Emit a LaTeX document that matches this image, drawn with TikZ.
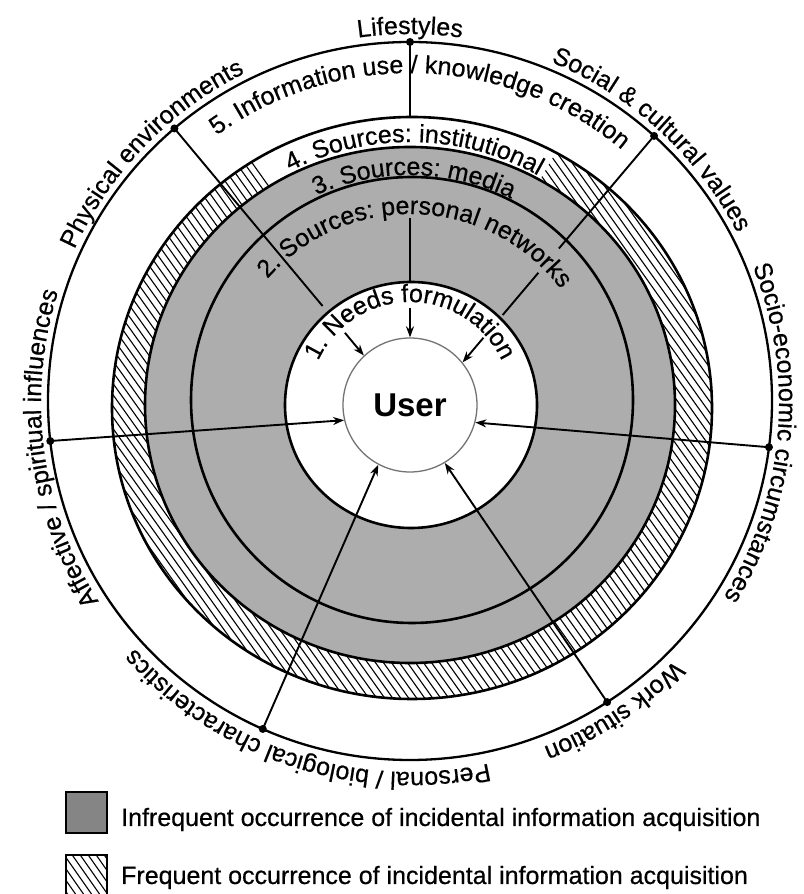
\documentclass[tikz,border=0pt]{standalone}
\usepackage{fontspec}
\setmainfont{Liberation Sans}
\newfontfamily\lblfamily{Liberation Sans}[FakeBold=0.5]
\usetikzlibrary{arrows.meta,calc,decorations.text}
\newcommand\lblfont{\lblfamily\fontsize{25}{30}\selectfont}
\newcommand\userfont{\fontsize{33}{40}\selectfont\bfseries}
\definecolor{ringgray}{gray}{0.68}
\definecolor{legendgray}{gray}{0.52}
\begin{document}
\begin{tikzpicture}[x=1pt,y=1pt,
  ringline/.style={line width=2.6pt},
  outerline/.style={line width=2.3pt},
  conn/.style={line width=1.9pt},
  tip/.style={-{Stealth[length=11pt,width=8pt]}},
  dotnode/.style={circle,fill=black,inner sep=0pt,minimum size=8pt},
  hatchline/.style={line width=1.1pt},
  legbox/.style={draw,line width=2.5pt,minimum width=41pt,minimum height=41pt,inner sep=0pt},
  arclabel/.style={decorate,decoration={text along path,text align=center,text={#1}}}
]
\clip (0,0) rectangle (803,894);
\fill[white] (0,0) rectangle (803,894);

% gray rings and white core
\fill[ringgray] (410,489) ellipse[x radius=265,y radius=258];
\fill[white] (411,489) ellipse[x radius=126,y radius=123];

% hatched band (ring 4) except top section
\begin{scope}[even odd rule]
  \clip (412,486) ellipse[x radius=300,y radius=291]
        (410,489) ellipse[x radius=265,y radius=258];
  \clip (410,489) -- +(60:800) -- +(0:800) -- +(-90:800) -- +(180:800) -- +(122:800) -- cycle;
  \foreach \i in {-700,-692,...,810} \draw[hatchline] (\i,900) -- ++(640,-900);
\end{scope}

% ring outlines
\draw[outerline] (410,493) ellipse[x radius=362,y radius=359];
\draw[ringline] (412,486) ellipse[x radius=300,y radius=291];
\draw[ringline] (410,489) ellipse[x radius=265,y radius=258];
\draw[ringline] (412,494) ellipse[x radius=221,y radius=223];
\draw[ringline] (411,489) ellipse[x radius=126,y radius=123];

% user
\node[circle,draw=black!55,line width=1.3pt,fill=white,minimum size=134pt,inner sep=0pt] (user) at (410,489) {\userfont User};

% dots on the outer circle
\coordinate (O) at (410,493);
\path (O) ++(90:362 and 359) coordinate (dLife);
\path (O) ++(47.6:362 and 359) coordinate (dSocial);
\path (O) ++(-7.4:362 and 359) coordinate (dSocio);
\path (O) ++(-57:362 and 359) coordinate (dWork);
\path (O) ++(-114:362 and 359) coordinate (dPers);
\path (O) ++(186.4:362 and 359) coordinate (dAff);
\path (O) ++(130.6:362 and 359) coordinate (dPhys);

% connectors
\draw[conn] (dLife) -- ($(dLife)!0.253!(user.90)$);
\draw[conn] ($(dLife)!0.595!(user.90)$) -- ($(dLife)!0.811!(user.90)$);
\draw[conn,tip] ($(dLife)!0.899!(user.90)$) -- (user.90);

\draw[conn] (dPhys) -- ($(dPhys)!0.782!(user.133)$);
\draw[conn,tip] ($(dPhys)!0.90!(user.133)$) -- (user.133);

\draw[conn] (dSocial) -- ($(dSocial)!0.497!(user.39)$);
\draw[conn] ($(dSocial)!0.604!(user.39)$) -- ($(dSocial)!0.791!(user.39)$);
\draw[conn,tip] ($(dSocial)!0.891!(user.39)$) -- (user.39);

\draw[conn,tip] (dSocio) -- (user.345);
\draw[conn,tip] (dWork) -- (user.301);
\draw[conn,tip] (dPers) -- (user.242);
\draw[conn,tip] (dAff) -- (user.193);

\foreach \d in {dLife,dSocial,dSocio,dWork,dPers,dAff,dPhys}
  \node[dotnode] (n\d) at (\d) {};

% outer labels
\path[arclabel={|\lblfont|Lifestyles}] (410,491) ++(115:369) arc[start angle=115,end angle=65,radius=369];
\path[arclabel={|\lblfont|Social {\&} cultural values}] (410,491) ++(75:369) arc[start angle=75,end angle=20,radius=369];
\path[arclabel={|\lblfont|Socio-economic circumstances}] (410,491) ++(30:369) arc[start angle=30,end angle=-40,radius=369];
\path[arclabel={|\lblfont|Work situation}] (410,491) ++(-30:369) arc[start angle=-30,end angle=-83,radius=369];
\path[arclabel={|\lblfont|Personal / biological characteristics}] (410,491) ++(-68:369) arc[start angle=-68,end angle=-148,radius=369];
\path[arclabel={|\lblfont|Affective / spiritual influences}] (410,491) ++(225:369) arc[start angle=225,end angle=150,radius=369];
\path[arclabel={|\lblfont|Physical environments}] (410,491) ++(160:369) arc[start angle=160,end angle=112,radius=369];

% ring labels
\path[arclabel={|\lblfont|5. Information use / knowledge creation}] (410,491) ++(130:330) arc[start angle=130,end angle=46,radius=330];
\path[arclabel={|\lblfont|4. Sources: institutional}] (410,491) ++(122:261) arc[start angle=122,end angle=56,radius=261];
\path[arclabel={|\lblfont|3. Sources: media}] (410,491) ++(120:228) arc[start angle=120,end angle=58,radius=228];
\path[arclabel={|\lblfont|2. Sources: personal networks}] (410,491) ++(145:189) arc[start angle=145,end angle=31,radius=189];
\path[arclabel={|\lblfont|1. Needs formulation}] (410,491) ++(160:101) arc[start angle=160,end angle=20,radius=101];

% legend
\node[legbox,fill=legendgray] (key1) at (86.5,81.5) {};
\node[legbox] (key2) at (86.5,18.5) {};
\begin{scope}
  \clip (66,-5) rectangle (107,39);
  \foreach \i in {-60,-52,...,110} \draw[hatchline] (\i,45) -- ++(35,-50);
\end{scope}
\node[legbox] at (key2) {};
\node[anchor=base west,inner sep=0pt] (t1) at (121,68) {\lblfont Infrequent occurrence of incidental information acquisition};
\node[anchor=base west,inner sep=0pt] (t2) at (121,10) {\lblfont Frequent occurrence of incidental information acquisition};
\end{tikzpicture}
\end{document}
